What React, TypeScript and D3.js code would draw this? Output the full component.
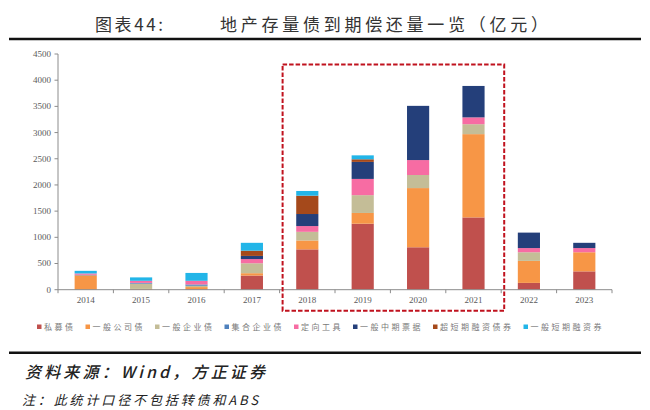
import { scaleBand, scaleLinear, stack } from "d3";
import { useEffect } from "react";

const years = ["2014", "2015", "2016", "2017", "2018", "2019", "2020", "2021", "2022", "2023"];

const seriesNames = [
  "私募债",
  "一般公司债",
  "一般企业债",
  "集合企业债",
  "定向工具",
  "一般中期票据",
  "超短期融资债券",
  "一般短期融资券",
];

const seriesColors = [
  "#C0504D",
  "#F79646",
  "#C4BD97",
  "#4F81BD",
  "#F76CA3",
  "#243F7A",
  "#A5491B",
  "#22B5E8",
];

// 亿元
const privatePlacement = [0, 0, 10, 270, 770, 1260, 810, 1380, 130, 350];
const corporateBond = [275, 15, 40, 45, 170, 205, 1130, 1590, 420, 365];
const enterpriseBond = [0, 100, 25, 190, 165, 340, 250, 190, 165, 0];
const collectiveBond = [10, 15, 25, 0, 0, 0, 0, 0, 0, 0];
const ppn = [25, 40, 70, 80, 110, 310, 285, 130, 80, 80];
const mtn = [0, 0, 0, 60, 230, 325, 1035, 600, 295, 100];
const scp = [0, 0, 0, 100, 350, 50, 0, 0, 0, 0];
const cp = [50, 65, 150, 150, 90, 75, 0, 0, 0, 0];

const seriesValues = [privatePlacement, corporateBond, enterpriseBond, collectiveBond, ppn, mtn, scp, cp];

const yTicks = [0, 500, 1000, 1500, 2000, 2500, 3000, 3500, 4000, 4500];
const highlighted = ["2018", "2021"];

const title = "图表44:";
const subtitle = "地产存量债到期偿还量一览（亿元）";
const source = "资料来源：Wind，方正证券";
const note = "注：此统计口径不包括转债和ABS";

const W = 650;
const H = 410;
const cjk = "'Noto Sans CJK SC', sans-serif";
const serif = "'Liberation Serif', 'Times New Roman', serif";

export default function App() {
  useEffect(() => {
    document.body.style.margin = "0";
    document.body.style.background = "#fff";
  }, []);

  const x = scaleBand<string>().domain(years).range([58, 612]).paddingInner(0.6).paddingOuter(0.3);
  const y = scaleLinear().domain([0, 4500]).range([289.7, 54]);

  const rows = years.map((yr, i) => {
    const row: Record<string, number | string> = { year: yr };
    seriesNames.forEach((s, k) => (row[s] = seriesValues[k][i]));
    return row;
  });
  const stacked = stack<Record<string, number | string>>().keys(seriesNames)(rows);

  const step = x.step();
  const gap = (step - x.bandwidth()) / 2;
  const boundaries = years.map((yr) => (x(yr) ?? 0) - gap).concat([(x(years[years.length - 1]) ?? 0) + x.bandwidth() + gap]);

  const boxLeft = (x(highlighted[0]) ?? 0) - gap + 3;
  const boxRight = (x(highlighted[1]) ?? 0) + x.bandwidth() + gap + 3;
  const boxTop = y(4300);
  const boxBottom = y(0) + 21;

  // legend positions: square, then text, spacing grows with label length
  let lx = 37;
  const legend = seriesNames.map((name, k) => {
    const item = { name, color: seriesColors[k], x: lx };
    lx += 17 + name.length * 10.5;
    return item;
  });

  return (
    <svg width={W} height={H} style={{ display: "block" }}>
      <rect width={W} height={H} fill="#fff" />

      <text x={95} y={31} fontFamily={cjk} fontSize={17} fill="#333" textLength={68} lengthAdjust="spacing">
        {title}
      </text>
      <text x={220} y={31} fontFamily={cjk} fontSize={17} fill="#333" textLength={328} lengthAdjust="spacing">
        {subtitle}
      </text>
      <line x1={9} x2={641} y1={39} y2={39} stroke="#111" strokeWidth={2.5} />

      {/* bars */}
      {stacked.map((layer, k) => (
        <g key={seriesNames[k]} fill={seriesColors[k]}>
          {layer.map((d, i) =>
            d[1] - d[0] > 0 ? (
              <rect
                key={years[i]}
                x={x(years[i])}
                width={x.bandwidth()}
                y={y(d[1])}
                height={y(d[0]) - y(d[1])}
              />
            ) : null
          )}
        </g>
      ))}

      {/* y axis */}
      <line x1={58} x2={58} y1={y(4500)} y2={y(0)} stroke="#8c8c8c" strokeWidth={1} />
      {yTicks.map((t) => (
        <g key={t}>
          <line x1={54.5} x2={58} y1={y(t)} y2={y(t)} stroke="#8c8c8c" />
          <text x={51} y={y(t)} dy="0.33em" textAnchor="end" fontFamily={serif} fontSize={9} fill="#5a5a5a">
            {t}
          </text>
        </g>
      ))}

      {/* x axis */}
      <line x1={58} x2={612} y1={y(0)} y2={y(0)} stroke="#8c8c8c" strokeWidth={1} />
      {boundaries.map((bx, i) => (
        <line key={i} x1={bx} x2={bx} y1={y(0)} y2={y(0) + 3.5} stroke="#8c8c8c" />
      ))}
      {years.map((yr) => (
        <text
          key={yr}
          x={(x(yr) ?? 0) + x.bandwidth() / 2}
          y={303}
          textAnchor="middle"
          fontFamily={serif}
          fontSize={9}
          fill="#5a5a5a"
        >
          {yr}
        </text>
      ))}

      {/* highlight box */}
      <rect
        x={boxLeft}
        y={boxTop}
        width={boxRight - boxLeft}
        height={boxBottom - boxTop}
        fill="none"
        stroke="#C0121E"
        strokeWidth={2}
        strokeDasharray="4.5 2"
      />

      {/* legend */}
      {legend.map((item) => (
        <g key={item.name}>
          <rect x={item.x} y={324.5} width={4.5} height={4.5} fill={item.color} />
          <text
            x={item.x + 7}
            y={330}
            fontFamily={cjk}
            fontSize={8}
            letterSpacing={2.5}
            fill="#7a7a7a"
          >
            {item.name}
          </text>
        </g>
      ))}

      <line x1={9} x2={641} y1={352.7} y2={352.7} stroke="#111" strokeWidth={2.5} />
      <text
        x={25}
        y={378}
        fontFamily={cjk}
        fontSize={16}
        fontStyle="italic"
        fontWeight={500}
        fill="#222"
        textLength={240}
        lengthAdjust="spacing"
      >
        {source}
      </text>
      <text
        x={22}
        y={405}
        fontFamily={cjk}
        fontSize={13}
        fontStyle="italic"
        fill="#222"
        textLength={236}
        lengthAdjust="spacing"
      >
        {note}
      </text>
    </svg>
  );
}
